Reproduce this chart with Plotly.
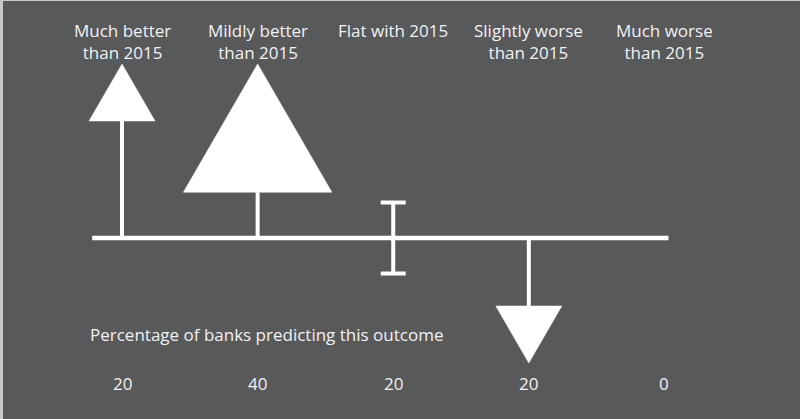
import plotly.graph_objects as go

# ---- data ----
categories = ["Much better<br>than 2015", "Mildly better<br>than 2015", "Flat with 2015",
              "Slightly worse<br>than 2015", "Much worse<br>than 2015"]
pct_banks = [20, 40, 20, 20, 0]
direction = [1, 1, 0, -1, -1]          # up = better, 0 = flat, down = worse
pct_labels = ["20", "40", "20", "20", "0"]
subtitle = "Percentage of banks predicting this outcome"

# ---- style ----
BG = "#58595b"
WHITE = "#ffffff"
TEXT = "#f2f2f2"
FONT = "Open Sans"
W, H = 800, 419
X_RANGE = [-0.9, 5.0]
Y_RANGE = [-181, 238]
PX = W / (X_RANGE[1] - X_RANGE[0])     # pixels per category unit
REACH = {1: 174, -1: 125}              # arrow tip distance from the baseline
TRI_W, TRI_H, EXP = 66, 57, 1.17       # triangle size at 20 %
FLAT_HALF, FLAT_CAP = 35.5, 25

fig = go.Figure()

def line(xs, ys, width=4):
    fig.add_trace(go.Scatter(x=xs, y=ys, mode="lines", hoverinfo="skip",
                             line=dict(color=WHITE, width=width), showlegend=False))

# baseline
line([-0.22, len(categories) - 1 + 0.03], [0, 0], width=4.5)

for i, (v, d) in enumerate(zip(pct_banks, direction)):
    if v == 0:
        continue
    if d == 0:
        h = FLAT_HALF * v / 20
        cw = FLAT_CAP / 2 / PX
        line([i, i], [-h, h])
        line([i - cw, i + cw], [h, h])
        line([i - cw, i + cw], [-h, -h])
        continue
    s = (v / 20) ** EXP
    tw, th = TRI_W * s / 2 / PX, TRI_H * s
    tip = d * REACH[d]
    base = tip - d * th
    line([i, i], [0, base])
    fig.add_trace(go.Scatter(x=[i - tw, i + tw, i, i - tw], y=[base, base, tip, base],
                             mode="lines", fill="toself", fillcolor=WHITE,
                             line=dict(color=WHITE, width=0.5), hoverinfo="skip",
                             showlegend=False))

ann = []
for i, c in enumerate(categories):
    ann.append(dict(x=i, y=221, text=c, showarrow=False, xanchor="center", yanchor="top",
                    font=dict(family=FONT, size=17, color=TEXT)))
for i, t in enumerate(pct_labels):
    ann.append(dict(x=i, y=-145, text=t, showarrow=False, xanchor="center", yanchor="middle",
                    font=dict(family=FONT, size=17, color=TEXT)))
ann.append(dict(x=-0.25, y=-96, text=subtitle, showarrow=False, xanchor="left", yanchor="middle",
                font=dict(family=FONT, size=17, color=TEXT)))

fig.update_layout(
    width=W, height=H, margin=dict(l=0, r=0, t=0, b=0),
    paper_bgcolor=BG, plot_bgcolor=BG,
    xaxis=dict(range=X_RANGE, visible=False, fixedrange=True),
    yaxis=dict(range=Y_RANGE, visible=False, fixedrange=True),
    annotations=ann,
    shapes=[
        dict(type="rect", xref="paper", yref="paper", x0=0, x1=3 / W, y0=0, y1=1,
             fillcolor="#c9c9c9", line=dict(width=0), layer="above"),
        dict(type="rect", xref="paper", yref="paper", x0=0, x1=1, y0=1 - 1 / H, y1=1,
             fillcolor="#c9c9c9", line=dict(width=0), layer="above"),
    ],
)

fig.write_html("out.html", config={"displayModeBar": False})
